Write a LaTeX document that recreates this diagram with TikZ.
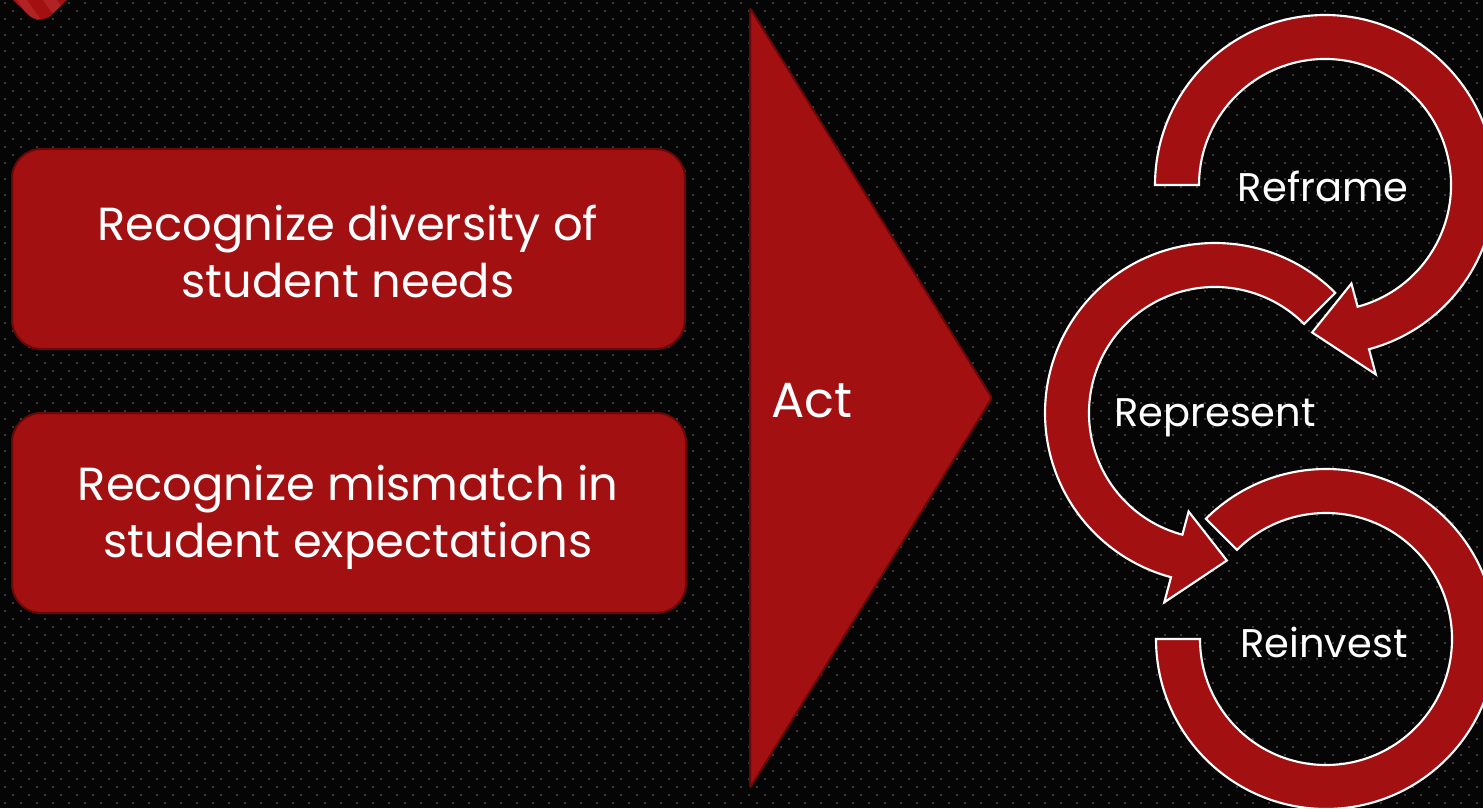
\documentclass[tikz,border=0pt]{standalone}
\usepackage{fontspec}
\setmainfont{Poppins}
\usetikzlibrary{calc}
\definecolor{bgblack}{HTML}{050505}
\definecolor{dotgray}{HTML}{3A3A3A}
\definecolor{redfill}{HTML}{A31012}
\definecolor{redline}{HTML}{6A0808}
\definecolor{redlight}{HTML}{C0383A}
\tikzset{
  dotrow/.style={draw=dotgray, line width=1.5pt, dash pattern=on 1.5pt off 10.5pt},
  redbox/.style={fill=redfill, draw=redline, line width=1.5pt, rounded corners=22pt},
  chevronshape/.style={fill=redfill, draw=redline, line width=1.5pt, rounded corners=2pt},
  circarrow/.style={fill=redfill, draw=white, line width=1.6pt, line join=miter},
  boxtext/.style={text=white, align=center, font=\fontsize{34.8}{42.75}\selectfont},
  acttext/.style={text=white, font=\fontsize{37}{42}\selectfont},
  circtext/.style={text=white, font=\fontsize{30}{36}\selectfont},
}
\begin{document}
\begin{tikzpicture}[x=0.75pt, y=0.75pt]
\useasboundingbox (0,0) rectangle (1483,808);
\clip (0,0) rectangle (1483,808);
\fill[bgblack] (0,0) rectangle (1483,808);
% dotted background
\foreach \i in {0,...,100}{
  \pgfmathsetmacro\yy{805.3-8*\i}
  \pgfmathsetmacro\xx{3.7+8*mod(\i,2)}
  \draw[dotrow] (\xx,\yy) -- (1490,\yy);
}
% corner shape at top left
\begin{scope}
  \clip[rounded corners=12pt] (-15,835) -- (40,782) -- (95,835) -- cycle;
  \fill[redfill] (-20,760) rectangle (100,840);
  \fill[redlight, opacity=0.45] (20,840) -- (34,840) -- (84,770) -- (70,770) -- cycle;
  \fill[redlight, opacity=0.45] (-6,840) -- (4,840) -- (54,770) -- (44,770) -- cycle;
\end{scope}
% boxes
\node[redbox, minimum width=673*0.75pt, minimum height=200*0.75pt] (b1) at (348.5,559) {};
\node[boxtext] (t1) at (348,557) {Recognize diversity of\\student needs};
\node[redbox, minimum width=674*0.75pt, minimum height=200*0.75pt] (b2) at (349,295) {};
\node[boxtext] (t2) at (348,291) {Recognize mismatch in\\student expectations};
% chevron
\coordinate (ct) at (750,800);
\coordinate (cp) at (992,410);
\coordinate (cb) at (750,20);
\draw[chevronshape] (ct) -- (cp) -- (cb) -- cycle;
\node[acttext, anchor=west, inner sep=0pt] (act) at (771,407) {Act};
% circular arrows
\coordinate (c1) at (1325,623);
\coordinate (c2) at (1215,395);
\coordinate (c3) at (1326,169);
\draw[circarrow] ($(c3)+(180:170)$) arc[start angle=180, end angle=495, radius=170]
  -- ($(c3)+(495:126)$) arc[start angle=495, end angle=180, radius=126] -- cycle;
\draw[circarrow] ($(c2)+(45:170)$) arc[start angle=45, end angle=255, radius=170]
  -- ($(c2)+(255:196)$) -- ($(c2)+(274.6:148)$) -- ($(c2)+(255:102)$) -- ($(c2)+(255:126)$)
  arc[start angle=255, end angle=45, radius=126] -- cycle;
\draw[circarrow] ($(c1)+(180:170)$) arc[start angle=180, end angle=-75, radius=170]
  -- ($(c1)+(-75:196)$) -- ($(c1)+(-95:148)$) -- ($(c1)+(-75:102)$) -- ($(c1)+(-75:126)$)
  arc[start angle=-75, end angle=180, radius=126] -- cycle;
\node[circtext] (reframe) at (1323,622) {Reframe};
\node[circtext] (represent) at (1215,390) {Represent};
\node[circtext] (reinvest) at (1324,166) {Reinvest};
\end{tikzpicture}
\end{document}
